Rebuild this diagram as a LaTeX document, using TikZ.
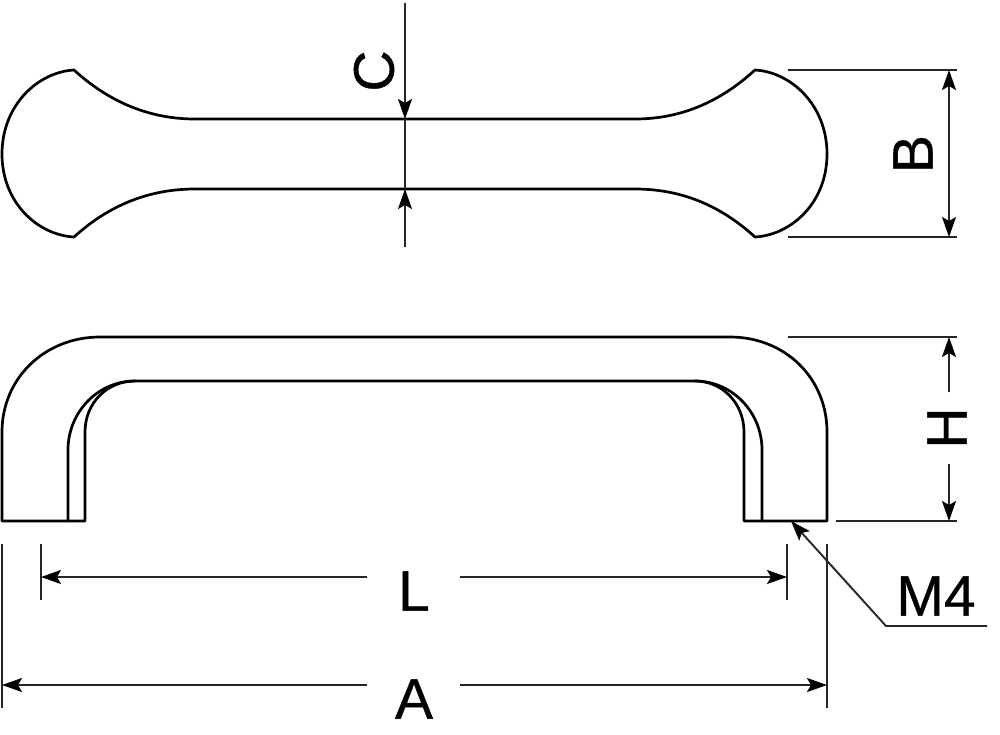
\documentclass[tikz,border=0pt]{standalone}
\usepackage{fontspec}
\setmainfont[FakeBold=0.6]{Liberation Sans}
\usetikzlibrary{arrows.meta}
\tikzset{
  body/.style={line width=2.7pt,line join=round,line cap=round,black},
  thin dim/.style={line width=1.9pt,black!85},
  dimarrow/.style={thin dim,-{Stealth[length=20pt,width=14pt,inset=4pt,black]}},
  dimtext/.style={font=\fontsize{57}{57}\selectfont,inner sep=0pt,text=black}
}
\begin{document}
\begin{tikzpicture}[x=1pt,y=-1pt]
\useasboundingbox (0,0) rectangle (1000,734);
% top view
\draw[body] (74,70) .. controls (38,72) and (2,105) .. (2,154) .. controls (2,203) and (38,235) .. (74,237)
  .. controls (108,206) and (148,189) .. (195,189) -- (635,189)
  .. controls (682,189) and (721,206) .. (755,237)
  .. controls (791,235) and (827,203) .. (827,154) .. controls (827,105) and (791,72) .. (755,70)
  .. controls (721,101) and (682,119) .. (635,119) -- (195,119)
  .. controls (148,119) and (108,101) .. (74,70) -- cycle;
% front view
\draw[body] (2,521) -- (2,432) .. controls (2,378) and (45,337) .. (100,337) -- (730,337)
  .. controls (785,337) and (827,378) .. (827,432) -- (827,521) -- (744,521) -- (744,432)
  .. controls (744,403) and (722,381) .. (695,381) -- (135,381)
  .. controls (107,381) and (85,403) .. (85,432) -- (85,521) -- cycle;
\draw[body] (68,521) -- (68,450) .. controls (68,412) and (98,381) .. (135,381);
\draw[body] (762,521) -- (762,450) .. controls (762,412) and (732,381) .. (695,381);
% named ends
\coordinate (cT) at (405,3); \coordinate (cA) at (405,119); \coordinate (cB) at (405,189); \coordinate (cE) at (405,247);
\coordinate (bT) at (949,70); \coordinate (bB) at (949,237);
\coordinate (hT) at (949,337); \coordinate (hTe) at (949,392); \coordinate (hBe) at (949,464); \coordinate (hB) at (949,521);
\coordinate (lL) at (41,577); \coordinate (lLe) at (367,577); \coordinate (lRe) at (460,577); \coordinate (lR) at (787,577);
\coordinate (aL) at (2,685); \coordinate (aLe) at (367,685); \coordinate (aRe) at (460,685); \coordinate (aR) at (827,685);
\coordinate (mTip) at (791,521); \coordinate (mK) at (886,626); \coordinate (mE) at (987,626);
% extension lines
\draw[thin dim] (788,70) -- (957,70);
\draw[thin dim] (788,237) -- (957,237);
\draw[thin dim] (788,337) -- (957,337);
\draw[thin dim] (836,521) -- (957,521);
\draw[thin dim] (41,544) -- (41,600);
\draw[thin dim] (787,544) -- (787,600);
\draw[thin dim] (2,544) -- (2,708);
\draw[thin dim] (827,544) -- (827,708);
% dimension lines
\draw[dimarrow] (cT) -- (cA);
\draw[thin dim] (cA) -- (cB);
\draw[dimarrow] (cE) -- (cB);
\draw[thin dim,{Stealth[length=20pt,width=14pt,inset=4pt,black]}-{Stealth[length=20pt,width=14pt,inset=4pt,black]}] (bT) -- (bB);
\draw[dimarrow] (hTe) -- (hT);
\draw[dimarrow] (hBe) -- (hB);
\draw[dimarrow] (lLe) -- (lL);
\draw[dimarrow] (lRe) -- (lR);
\draw[dimarrow] (aLe) -- (aL);
\draw[dimarrow] (aRe) -- (aR);
\draw[dimarrow] (mE) -- (mK) -- (mTip);
% labels
\node[dimtext,rotate=90] (labC) at (374,71) {C};
\node[dimtext,rotate=90] (labB) at (913,154) {B};
\node[dimtext,rotate=90] (labH) at (947,428) {H};
\node[dimtext] (labL) at (414,591) {L};
\node[dimtext] (labA) at (414,699) {A};
\node[dimtext] (labM) at (936,596) {M4};
\end{tikzpicture}
\end{document}
